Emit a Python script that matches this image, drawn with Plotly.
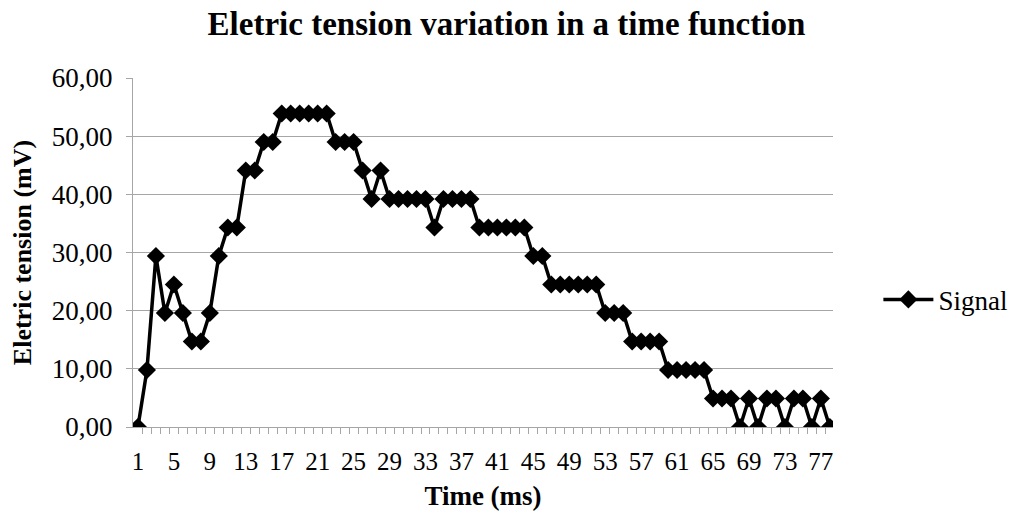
import plotly.graph_objects as go

time_ms = list(range(1, 79))
signal_mv = [
    0.0, 9.8, 29.4, 19.6, 24.5, 19.6, 14.7, 14.7, 19.6, 29.4,
    34.3, 34.3, 44.1, 44.1, 49.0, 49.0, 53.9, 53.9, 53.9, 53.9,
    53.9, 53.9, 49.0, 49.0, 49.0, 44.1, 39.2, 44.1, 39.2, 39.2,
    39.2, 39.2, 39.2, 34.3, 39.2, 39.2, 39.2, 39.2, 34.3, 34.3,
    34.3, 34.3, 34.3, 34.3, 29.4, 29.4, 24.5, 24.5, 24.5, 24.5,
    24.5, 24.5, 19.6, 19.6, 19.6, 14.7, 14.7, 14.7, 14.7, 9.8,
    9.8, 9.8, 9.8, 9.8, 4.9, 4.9, 4.9, 0.0, 4.9, 0.0,
    4.9, 4.9, 0.0, 4.9, 4.9, 0.0, 4.9, 0.0,
]
x_tick_vals = list(range(1, 78, 4))
y_tick_vals = [0, 10, 20, 30, 40, 50, 60]

SERIF = "Liberation Serif"
GRID = "#a6a6a6"

fig = go.Figure()
fig.add_trace(go.Scatter(
    x=time_ms, y=signal_mv, name="Signal",
    mode="lines+markers",
    line=dict(color="black", width=3.5),
    marker=dict(symbol="diamond", size=14, color="black"),
))

fig.update_layout(
    width=1019, height=518,
    paper_bgcolor="white", plot_bgcolor="white",
    separators=",.",
    margin=dict(l=133, r=186, t=78, b=91, autoexpand=False),
    font=dict(family=SERIF, color="black", size=25),
    title=dict(text="<b>Eletric tension variation in a time function</b>",
               x=0.497, xanchor="center", y=0.955, yanchor="middle",
               font=dict(size=33, family=SERIF, color="black")),
    showlegend=True,
    legend=dict(xref="container", yref="container",
                x=0.862, xanchor="left", y=0.421, yanchor="middle",
                font=dict(size=27, family=SERIF, color="black"),
                bgcolor="rgba(0,0,0,0)", itemwidth=50),
)
fig.update_xaxes(
    range=[0.45, 78.35], tickmode="array", tickvals=x_tick_vals,
    ticktext=[str(v) for v in x_tick_vals], ticks="", showgrid=False,
    showline=True, linecolor=GRID, linewidth=1, zeroline=False,
    tickfont=dict(size=25, family=SERIF, color="black"),
    ticklabelstandoff=12,
    minor=dict(tickmode="array", tickvals=[v + 0.5 for v in time_ms[:-1]],
               ticks="outside", ticklen=6, tickcolor=GRID, tickwidth=1, showgrid=False),
    title=dict(text="<b>Time (ms)</b>", font=dict(size=27, family=SERIF, color="black"), standoff=12),
)
fig.update_yaxes(
    range=[0, 60], tickmode="array", tickvals=y_tick_vals, tickformat=".2f",
    ticks="outside", ticklen=6, tickcolor=GRID,
    showgrid=True, gridcolor=GRID, gridwidth=1,
    showline=True, linecolor=GRID, linewidth=1, zeroline=False,
    tickfont=dict(size=27, family=SERIF, color="black"),
    ticklabelstandoff=8,
    title=dict(text="<b>Eletric tension (mV)</b>", font=dict(size=26, family=SERIF, color="black"), standoff=12),
)

fig.write_html("out.html")
